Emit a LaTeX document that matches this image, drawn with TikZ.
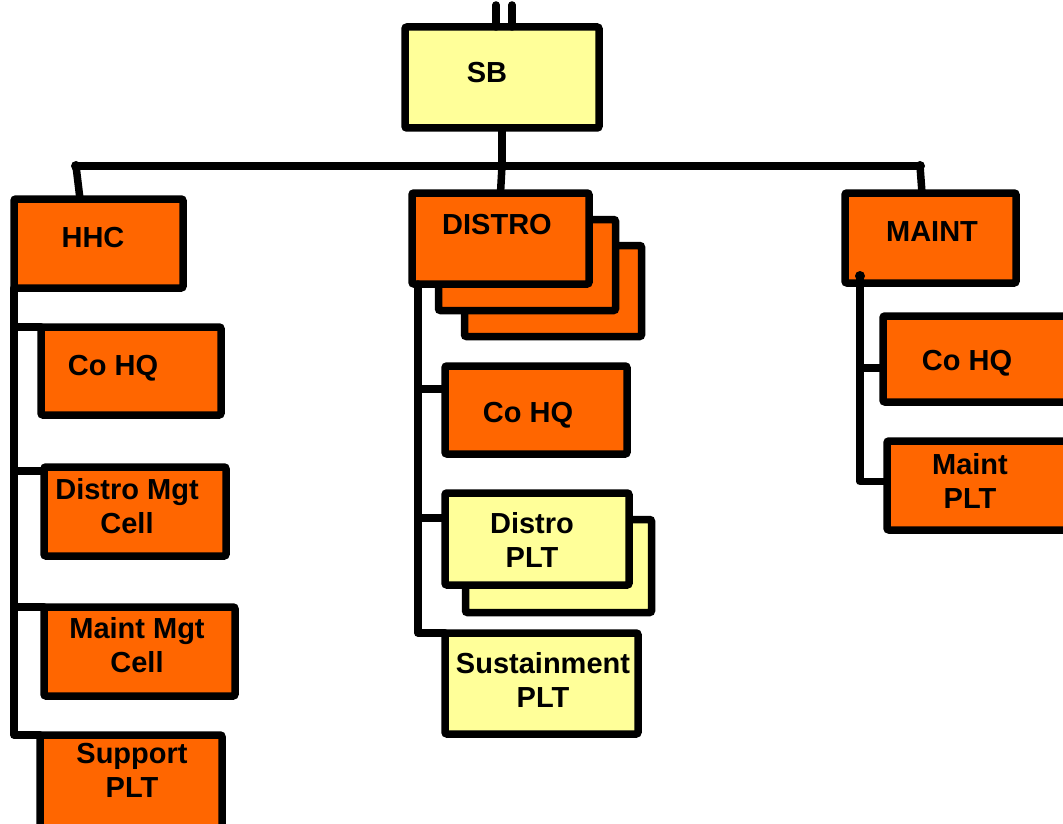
\documentclass[tikz,border=0pt]{standalone}
\usepackage{fontspec}
\setmainfont{Liberation Sans}
\usetikzlibrary{calc}
\definecolor{org}{HTML}{FF6600}
\definecolor{ylw}{HTML}{FFFF99}
\begin{document}
\begin{tikzpicture}[x=1pt,y=-1pt,
  box/.style={draw=black, line width=7.5pt, rounded corners=2pt, inner sep=0pt, outer sep=0pt, anchor=center},
  obox/.style={box, fill=org},
  ybox/.style={box, fill=ylw},
  lbl/.style={font=\fontsize{29}{34}\selectfont\bfseries, align=center, inner sep=0pt, anchor=center},
  conn/.style={line width=7.5pt, line cap=round, line join=round}]
\clip (0,0) rectangle (1063,824);
\fill[white] (0,0) rectangle (1063,824);
% SB
\node[ybox, minimum width=194pt, minimum height=101pt] (SB) at (502,77.5) {};
\node[lbl] (SBt) at (487,73) {SB};
% HHC column
\node[obox, minimum width=169pt, minimum height=89pt] (HHC) at (98.5,243.5) {};
\node[lbl] (HHCt) at (93,238) {HHC};
\node[obox, minimum width=180pt, minimum height=88pt] (HCO) at (131,371) {};
\node[lbl] (HCOt) at (113,368) {Co HQ};
\node[obox, minimum width=182pt, minimum height=89pt] (DMC) at (135,511.5) {};
\node[lbl] (DMCt) at (127,506) {Distro Mgt\\Cell};
\node[obox, minimum width=191pt, minimum height=89pt] (MMC) at (139.5,651.5) {};
\node[lbl] (MMCt) at (137,645) {Maint Mgt\\Cell};
\node[obox, minimum width=182pt, minimum height=95pt] (SUP) at (131,782.5) {};
\node[lbl] (SUPt) at (132,770) {Support\\PLT};
% DISTRO column
\node[obox, minimum width=177pt, minimum height=91pt] (DIS3) at (553,291) {};
\node[obox, minimum width=177pt, minimum height=91pt] (DIS2) at (527,265) {};
\node[obox, minimum width=177pt, minimum height=91pt] (DIS) at (500.5,238.5) {};
\node[lbl] (DISt) at (497,225) {DISTRO};
\node[obox, minimum width=182pt, minimum height=88pt] (DCO) at (536,410) {};
\node[lbl] (DCOt) at (528,415) {Co HQ};
\node[ybox, minimum width=186pt, minimum height=93pt] (DPL2) at (558.5,566) {};
\node[ybox, minimum width=184pt, minimum height=92pt] (DPL) at (537,539) {};
\node[lbl] (DPLt) at (532,540) {Distro\\PLT};
\node[ybox, minimum width=193pt, minimum height=101pt] (SUS) at (541.5,683.5) {};
\node[lbl] (SUSt) at (543,680) {Sustainment\\PLT};
% MAINT column
\node[obox, minimum width=171pt, minimum height=90pt] (MNT) at (930.5,238) {};
\node[lbl] (MNTt) at (932,232) {MAINT};
\node[obox, minimum width=192pt, minimum height=86pt] (MCO) at (979,359) {};
\node[lbl] (MCOt) at (967,363) {Co HQ};
\node[obox, minimum width=188pt, minimum height=89pt] (MPL) at (981,485.5) {};
\node[lbl] (MPLt) at (970,481) {Maint\\PLT};
% junction coordinates
\coordinate (t1) at (496,5);
\coordinate (t2) at (512,5);
\coordinate (hL) at (76,166);
\coordinate (hM) at (502,166);
\coordinate (hR) at (920,166);
\coordinate (hs) at ($(HHC.south west)$);
\coordinate (ds) at ($(DIS.south west)+(6,0)$);
\coordinate (ms) at (860,276);
% connectors
\draw[conn] (t1) -- (t1 |- SB.north);
\draw[conn] (t2) -- (t2 |- SB.north);
\draw[conn] (SB.south -| hM) -- (hM);
\draw[conn] (hL) -- (hR);
\draw[conn] (hL) -- ($(HHC.north west)+(66,0)$);
\draw[conn] (hM) -- (DIS.north);
\draw[conn] (hR) -- ($(MNT.north west)+(77,0)$);
\fill (hL) circle (5);
\fill (hR) circle (5);
% HHC spine
\draw[conn] (hs) -- (hs |- SUP.north west) -- (SUP.north west);
\draw[conn] (hs |- HCO.north west) -- (HCO.north west);
\draw[conn] ($(hs |- DMC.north west)+(0,4)$) -- ($(DMC.north west)+(0,4)$);
\draw[conn] (hs |- MMC.north west) -- (MMC.north west);
% DISTRO spine
\draw[conn] (ds) -- (ds |- SUS.north west) -- (SUS.north west);
\draw[conn] ($(ds |- DCO.north west)+(0,23)$) -- ($(DCO.north west)+(0,23)$);
\draw[conn] ($(ds |- DPL.north west)+(0,25)$) -- ($(DPL.north west)+(0,25)$);
% MAINT spine
\draw[conn] (ms) -- ($(ms |- MPL.west)+(0,-4)$) -- ($(MPL.west)+(0,-4)$);
\draw[conn] ($(ms |- MCO.west)+(0,9)$) -- ($(MCO.west)+(0,9)$);
\fill (ms) circle (5);
\end{tikzpicture}
\end{document}
